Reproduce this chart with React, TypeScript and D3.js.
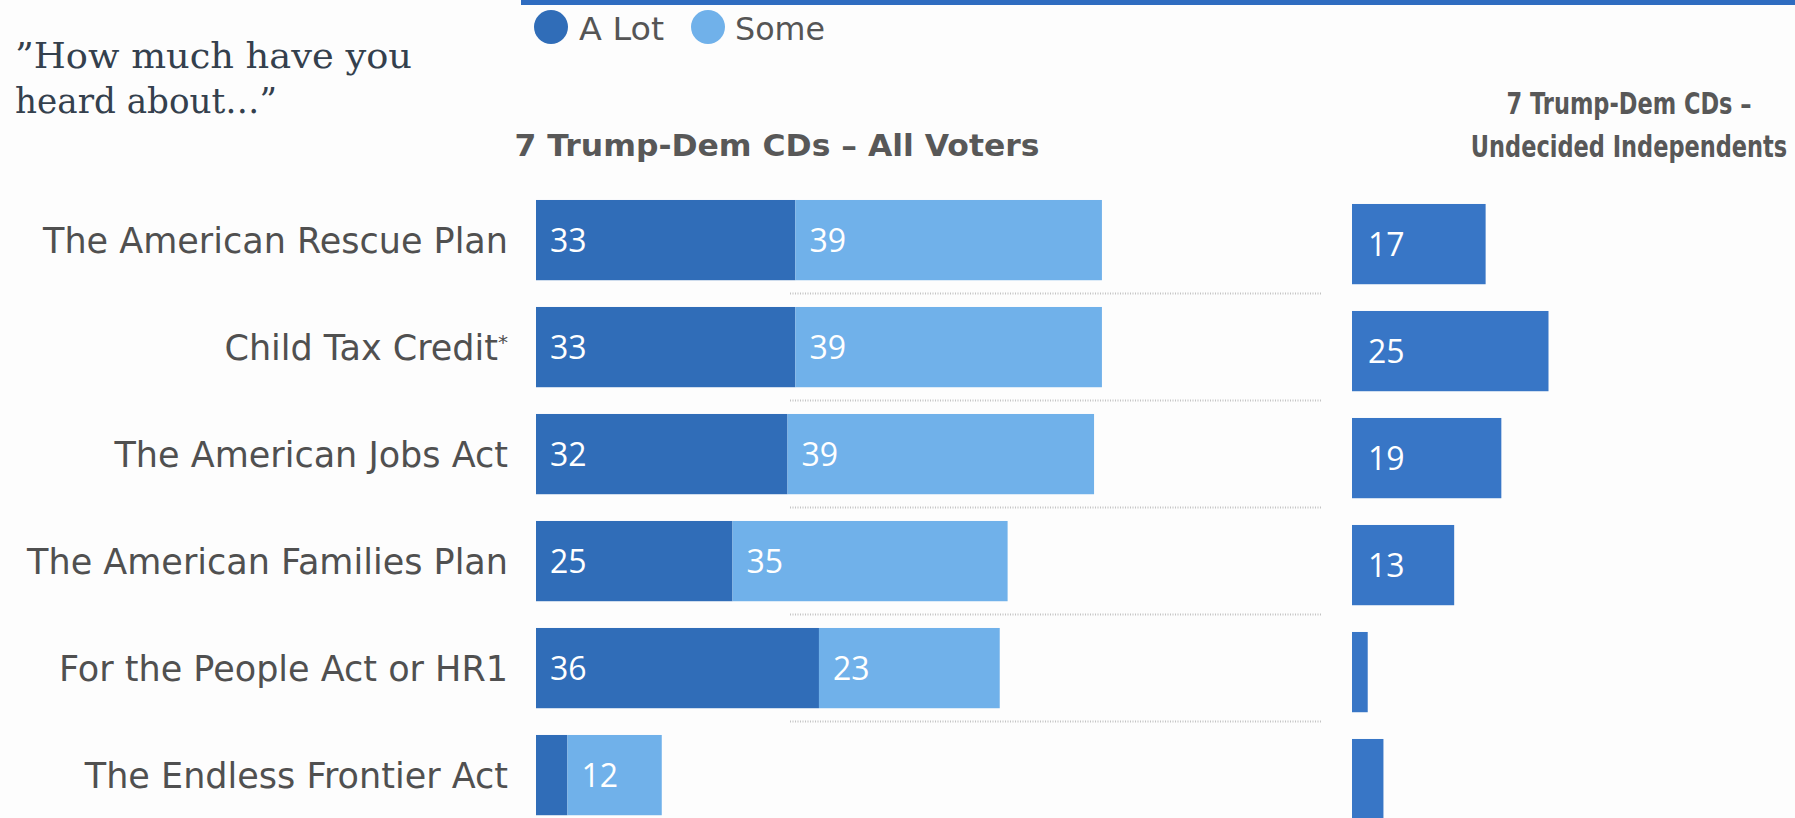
import React, { useEffect } from 'react';
import * as d3 from 'd3';

const categories = [
  'The American Rescue Plan',
  'Child Tax Credit*',
  'The American Jobs Act',
  'The American Families Plan',
  'For the People Act or HR1',
  'The Endless Frontier Act',
];
const allVotersALot = [33, 33, 32, 25, 36, 4];
const allVotersSome = [39, 39, 39, 35, 23, 12];
const undecidedALot = [17, 25, 19, 13, 2, 4];
const seriesNames = ['A Lot', 'Some'];
const questionLines = ['\u201DHow much have you', 'heard about\u2026\u201D'];
const panel1Title = '7 Trump-Dem CDs – All Voters';
const panel2TitleLines = ['7 Trump-Dem CDs –', 'Undecided Independents'];

const W = 1795;
const H = 818;
const DARK = '#306db8';
const LIGHT = '#70b1ea';
const RIGHT_BAR = '#3876c6';
const LABEL_FONT = "'DejaVu Sans', Verdana, sans-serif";
const VALUE_FONT = "'Open Sans', 'Liberation Sans', sans-serif";
const TITLE_FONT = "'DejaVu Sans', Verdana, sans-serif";

function CategoryLabel({ text, x, y }: { text: string; x: number; y: number }) {
  const star = text.endsWith('*');
  const main = star ? text.slice(0, -1) : text;
  return (
    <text
      x={x}
      y={y}
      dy="0.36em"
      textAnchor="end"
      fontFamily={LABEL_FONT}
      fontSize={35}
      fill="#505050"
    >
      {main}
      {star && (
        <tspan fontSize={20} dy="-0.55em">
          *
        </tspan>
      )}
    </text>
  );
}

export default function App() {
  useEffect(() => {
    document.body.style.margin = '0';
  }, []);

  const y = d3
    .scaleBand<string>()
    .domain(categories)
    .range([186.6, 828.6])
    .paddingInner(0.25)
    .paddingOuter(0.125);
  const x1 = d3.scaleLinear().domain([0, 100]).range([536, 536 + 786]);
  const x2 = d3.scaleLinear().domain([0, 100]).range([1352, 1352 + 786]);
  const bw = y.bandwidth();

  const color = d3.scaleOrdinal<string, string>().domain(seriesNames).range([DARK, LIGHT]);

  const stacked = d3.stack<any>().keys(seriesNames)(
    categories.map((c, i) => ({ cat: c, 'A Lot': allVotersALot[i], Some: allVotersSome[i] }))
  );

  const sepYs = categories.slice(0, -1).map((c, i) => (y(c)! + bw + y(categories[i + 1])!) / 2);

  return (
    <svg width={W} height={H} style={{ position: 'absolute', left: 0, top: 0, background: '#fff' }}>
      <rect x={0} y={0} width={W} height={H} fill="#fdfdfd" />
      <rect x={521} y={0} width={W - 521} height={5} fill="#2f6cc0" />

      {/* question */}
      {questionLines.map((t, i) => (
        <text
          key={t}
          x={15}
          y={68 + i * 45}
          fontFamily="'DejaVu Serif', serif"
          fontSize={36}
          fill="#34404d"
          textLength={i === 0 ? 397 : 262}
          lengthAdjust="spacingAndGlyphs"
        >
          {t}
        </text>
      ))}

      {/* legend */}
      {seriesNames.map((s, i) => {
        const cx = [551, 708][i];
        return (
          <g key={s}>
            <circle cx={cx} cy={27} r={17} fill={color(s)} />
            <text
              x={[579, 735][i]}
              y={40}
              fontFamily={LABEL_FONT}
              fontSize={32}
              fill="#555"
              textLength={[85, 90][i]}
              lengthAdjust="spacingAndGlyphs"
            >
              {s}
            </text>
          </g>
        );
      })}

      {/* panel titles */}
      <text
        x={777}
        y={156}
        textAnchor="middle"
        fontFamily={TITLE_FONT}
        fontWeight="bold"
        fontSize={30}
        fill="#585858"
        textLength={525}
        lengthAdjust="spacingAndGlyphs"
      >
        {panel1Title}
      </text>
      {panel2TitleLines.map((t, i) => (
        <g key={t} transform={`translate(1629, ${114 + i * 43}) scale(0.75, 1)`}>
          <text
            x={0}
            y={0}
            textAnchor="middle"
            fontFamily={TITLE_FONT}
            fontWeight="bold"
            fontSize={30}
            fill="#585858"
          >
            {t}
          </text>
        </g>
      ))}

      {/* separators */}
      {sepYs.map((sy, i) => (
        <line
          key={i}
          x1={790}
          x2={1322}
          y1={sy}
          y2={sy}
          stroke="#c4c4c4"
          strokeWidth={2}
          strokeDasharray="1 1.5"
        />
      ))}

      {/* category labels */}
      {categories.map((c) => (
        <CategoryLabel key={c} text={c} x={508} y={y(c)! + bw / 2} />
      ))}

      {/* panel 1 stacked bars */}
      {stacked.map((layer) => (
        <g key={layer.key} fill={color(layer.key)}>
          {layer.map((d, i) => (
            <rect
              key={i}
              x={x1(d[0])}
              y={y(categories[i])!}
              width={x1(d[1]) - x1(d[0])}
              height={bw}
            />
          ))}
        </g>
      ))}
      {stacked.map((layer) =>
        layer.map((d, i) => {
          const v = d[1] - d[0];
          if (v < 10) return null;
          return (
            <text
              key={layer.key + i}
              x={x1(d[0]) + 14}
              y={y(categories[i])! + bw / 2}
              dy="0.36em"
              fontFamily={VALUE_FONT}
              fontSize={32}
              fill="#fff"
            >
              {v}
            </text>
          );
        })
      )}

      {/* panel 2 bars */}
      {undecidedALot.map((v, i) => (
        <rect
          key={i}
          x={x2(0)}
          y={y(categories[i])! + 4}
          width={x2(v) - x2(0)}
          height={bw}
          fill={RIGHT_BAR}
        />
      ))}
      {undecidedALot.map((v, i) =>
        v < 10 ? null : (
          <text
            key={'l' + i}
            x={x2(0) + 16}
            y={y(categories[i])! + 4 + bw / 2}
            dy="0.36em"
            fontFamily={VALUE_FONT}
            fontSize={32}
            fill="#fff"
          >
            {v}
          </text>
        )
      )}
    </svg>
  );
}
